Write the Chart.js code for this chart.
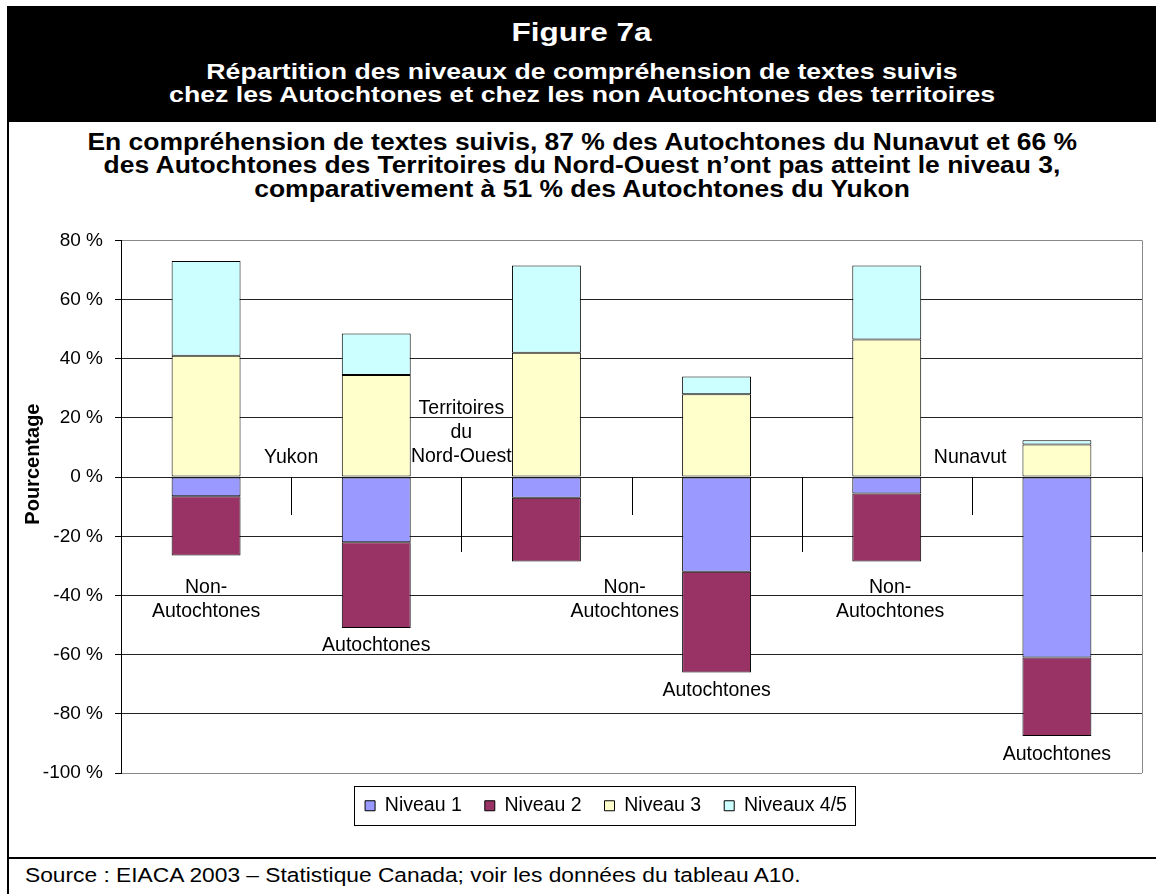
<!DOCTYPE html>
<html>
<head>
<meta charset="utf-8">
<script src="https://cdn.jsdelivr.net/npm/chart.js@4.4.0/dist/chart.umd.min.js"></script>
<style>
    body {
        margin: 0;
        width: 1156px;
        height: 894px;
        position: relative;
        overflow: hidden;
        background: #fff;
        font-family: 'Liberation Sans', Arial, sans-serif;
    }

    #frameLeft { position: absolute; left: 7px; top: 6px; width: 2px; height: 888px; background: #000; }
    #header { position: absolute; left: 8px; top: 6px; right: 0; height: 116px; background: #000; }
    #sourceRule { position: absolute; left: 8px; right: 0; top: 857px; height: 2px; background: #000; }

    .line {
        position: absolute;
        left: 8px;
        right: 0;
        text-align: center;
        white-space: nowrap;
        font-weight: bold;
    }
    .line span { display: inline-block; transform-origin: center; }

    .fig { top: 19.8px; font-size: 25px; line-height: 25px; color: #fff; }
    .fig span { transform: scaleX(1.26); }
    .head { font-size: 21.5px; line-height: 21.5px; color: #fff; }
    .head span { transform: scaleX(1.24); }
    .sub { font-size: 23px; line-height: 23px; color: #000; }
    .sub span { transform: scaleX(1.15); }

    #source {
        position: absolute;
        left: 25px;
        top: 864.6px;
        font-size: 20.5px;
        line-height: 20.5px;
        white-space: nowrap;
        transform: scaleX(1.11);
        transform-origin: left;
    }

    #chartBox { position: absolute; left: 10px; top: 217px; width: 1146px; height: 636px; }
</style>
</head>
<body>
<div id="header"></div>
<div id="frameLeft"></div>

<div class="line fig"><span>Figure 7a</span></div>
<div class="line head" style="top:61.8px"><span>Répartition des niveaux de compréhension de textes suivis</span></div>
<div class="line head" style="top:84.8px"><span>chez les Autochtones et chez les non Autochtones des territoires</span></div>

<div class="line sub" style="top:130.5px"><span>En compréhension de textes suivis, 87 % des Autochtones du Nunavut et 66 %</span></div>
<div class="line sub" style="top:154px"><span>des Autochtones des Territoires du Nord-Ouest n’ont pas atteint le niveau 3,</span></div>
<div class="line sub" style="top:177.5px"><span>comparativement à 51 % des Autochtones du Yukon</span></div>

<div id="chartBox"><canvas id="chart"></canvas></div>

<div id="sourceRule"></div>
<div id="source">Source : EIACA 2003 – Statistique Canada; voir les données du tableau A10.</div>

<script>
// Data (percent of each population)
const categories = [
    'Non-Autochtones Yukon', 'Autochtones Yukon',
    'Non-Autochtones Territoires du Nord-Ouest', 'Autochtones Territoires du Nord-Ouest',
    'Non-Autochtones Nunavut', 'Autochtones Nunavut'
];
const seriesNames = ['Niveau 1', 'Niveau 2', 'Niveau 3', 'Niveaux 4/5'];
const niveau1 = [-6.5, -22, -7, -32, -5.5, -61];
const niveau2 = [-20, -29, -21.5, -34, -23, -26.5];
const niveau3 = [41, 34.5, 42, 28, 46.5, 11];
const niveaux45 = [32, 14, 29.5, 6, 25, 1.5];
const yTicks = [-100, -80, -60, -40, -20, 0, 20, 40, 60, 80];

// Texts written inside the plot
const regionTexts = [['Yukon'], ['Territoires', 'du', 'Nord-Ouest'], ['Nunavut']];
const groupTexts = [['Non-', 'Autochtones'], ['Autochtones']];
const axisTitle = 'Pourcentage';

const colors = ['#9999FF', '#993366', '#FFFFCC', '#CCFFFF'];
const FONT = "'Liberation Sans', Arial, sans-serif";

Chart.defaults.font.family = FONT;
Chart.defaults.color = '#000';

// where the in-plot texts sit: category index and value of first baseline
const regionSpots = [
    { x: 0.5, y: 4.7, text: regionTexts[0] },
    { x: 1.5, y: 21.3, text: regionTexts[1] },
    { x: 4.49, y: 4.7, text: regionTexts[2] }
];
const groupSpots = [
    { x: 0, y: -39.2, text: groupTexts[0] },
    { x: 1, y: -58.8, text: groupTexts[1] },
    { x: 2.46, y: -39.2, text: groupTexts[0] },
    { x: 3, y: -74, text: groupTexts[1] },
    { x: 4.02, y: -39.2, text: groupTexts[0] },
    { x: 5, y: -95.6, text: groupTexts[1] }
];
// separator ticks below the zero line (short / long)
const separatorDepths = [-12.8, -25.3, -12.8, -25.3, -12.8, -25.3];

const overlay = {
    id: 'overlay',
    afterDatasetsDraw(chart) {
        const { ctx, chartArea, scales: { x, y } } = chart;
        ctx.save();

        // right border of the plot
        ctx.strokeStyle = '#888';
        ctx.lineWidth = 1;
        ctx.beginPath();
        ctx.moveTo(Math.round(chartArea.right) + 0.5, chartArea.top);
        ctx.lineTo(Math.round(chartArea.right) + 0.5, chartArea.bottom);
        ctx.stroke();

        // category separators
        ctx.strokeStyle = '#000';
        const y0 = y.getPixelForValue(0);
        separatorDepths.forEach((d, i) => {
            const px = Math.round(x.getPixelForValue(i + 0.5)) + 0.5;
            ctx.beginPath();
            ctx.moveTo(px, y0);
            ctx.lineTo(px, y.getPixelForValue(d));
            ctx.stroke();
        });

        // labels
        ctx.fillStyle = '#000';
        ctx.font = '19.5px ' + FONT;
        ctx.textAlign = 'center';
        ctx.textBaseline = 'alphabetic';
        regionSpots.concat(groupSpots).forEach(spot => {
            const px = x.getPixelForValue(spot.x);
            const py = y.getPixelForValue(spot.y);
            spot.text.forEach((t, k) => ctx.fillText(t, px, py + k * 24));
        });

        ctx.restore();
    },
    afterDraw(chart) {
        const { ctx, scales: { y } } = chart;
        ctx.save();

        // axis title
        ctx.translate(23, y.getPixelForValue(4.4));
        ctx.rotate(-Math.PI / 2);
        ctx.font = 'bold 20px ' + FONT;
        ctx.fillStyle = '#000';
        ctx.textAlign = 'center';
        ctx.textBaseline = 'middle';
        ctx.fillText(axisTitle, 0, 0);
        ctx.setTransform(1, 0, 0, 1, 0, 0);

        // frame around the legend
        const boxes = chart.legend.legendHitBoxes;
        if (boxes && boxes.length) {
            const first = boxes[0];
            const last = boxes[boxes.length - 1];
            const left = Math.round(first.left - 11) + 0.5;
            const right = Math.round(last.left + last.width + 8) + 0.5;
            const top = Math.round(first.top - 10) + 0.5;
            const bottom = Math.round(first.top + first.height + 9) + 0.5;
            ctx.strokeStyle = '#000';
            ctx.lineWidth = 1;
            ctx.strokeRect(left, top, right - left, bottom - top);
        }
        ctx.restore();
    }
};

const series = [niveau1, niveau2, niveau3, niveaux45];

new Chart(document.getElementById('chart'), {
    type: 'bar',
    data: {
        labels: categories,
        datasets: series.map((values, i) => ({
            label: seriesNames[i],
            data: values,
            backgroundColor: colors[i],
            borderColor: '#000',
            borderWidth: 1,
            borderSkipped: false,
            barPercentage: 0.405,
            categoryPercentage: 1
        }))
    },
    options: {
        responsive: true,
        maintainAspectRatio: false,
        animation: false,
        layout: {
            padding: { left: 60, right: 14, top: 0, bottom: 27.5 }
        },
        plugins: {
            legend: {
                position: 'bottom',
                labels: {
                    boxWidth: 10,
                    boxHeight: 10,
                    padding: 23,
                    color: '#000',
                    font: { size: 19.5 }
                }
            },
            tooltip: { enabled: false }
        },
        scales: {
            x: {
                stacked: true,
                display: false
            },
            y: {
                stacked: true,
                min: yTicks[0],
                max: yTicks[yTicks.length - 1],
                afterFit: scale => {
                    // narrow box so the legend centres like the original,
                    // and let the tick labels spill to the left of it
                    scale.width = 51;
                    scale._computeLabelArea = () => undefined;
                },
                ticks: {
                    stepSize: yTicks[1] - yTicks[0],
                    padding: 12,
                    color: '#000',
                    font: { size: 19 },
                    callback: value => value + ' %'
                },
                grid: {
                    color: ctx => (ctx.tick && (ctx.tick.value === 80 || ctx.tick.value === -100)) ? '#888' : '#222',
                    tickColor: '#000',
                    tickLength: 6
                },
                border: { color: '#000', width: 1 }
            }
        }
    },
    plugins: [overlay]
});
</script>
</body>
</html>
